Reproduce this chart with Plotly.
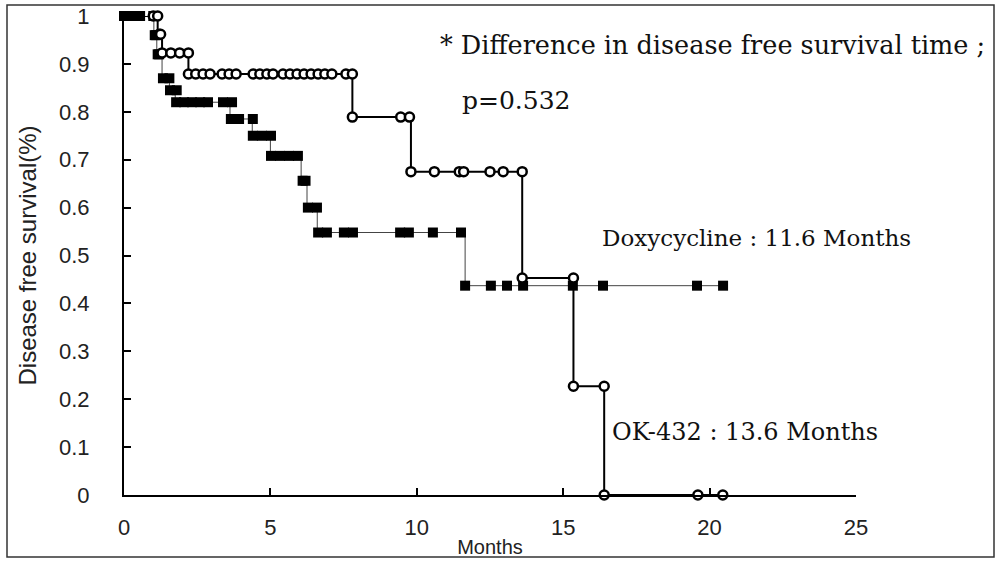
import plotly.graph_objects as go

# ---- data ----
ok_event_t = [1.15, 1.3, 2.2, 7.8, 9.8, 13.6, 15.35, 16.4]
ok_event_s = [0.962, 0.923, 0.879, 0.789, 0.675, 0.453, 0.227, 0.0]
ok_end_t = 20.45

ok_mark_t = [1.0, 1.15,
             1.2, 1.25,
             1.3, 1.6, 1.9, 2.2,
             2.2, 2.45, 2.7, 2.94, 3.35, 3.59, 3.83, 4.41, 4.64, 4.88, 5.09,
             5.43, 5.67, 5.91, 6.15, 6.39, 6.63, 6.86, 7.1, 7.58, 7.8,
             7.8, 9.45, 9.75,
             9.8, 10.6, 11.45, 11.6, 12.5, 12.95, 13.6,
             13.6, 15.35,
             15.35, 16.4,
             16.4, 19.6, 20.45]
ok_mark_s = [1.0, 1.0,
             0.962, 0.962,
             0.923, 0.923, 0.923, 0.923,
             0.879, 0.879, 0.879, 0.879, 0.879, 0.879, 0.879, 0.879, 0.879, 0.879, 0.879,
             0.879, 0.879, 0.879, 0.879, 0.879, 0.879, 0.879, 0.879, 0.879, 0.879,
             0.789, 0.789, 0.789,
             0.675, 0.675, 0.675, 0.675, 0.675, 0.675, 0.675,
             0.453, 0.453,
             0.227, 0.227,
             0.0, 0.0, 0.0]

dx_event_t = [1.02, 1.12, 1.3, 1.55, 1.75, 3.62, 4.38, 5.0, 6.05, 6.25, 6.6, 11.65]
dx_event_s = [0.96, 0.92, 0.87, 0.845, 0.82, 0.785, 0.75, 0.708, 0.656, 0.60, 0.548, 0.437]
dx_end_t = 20.46

dx_mark_t = [0.0, 0.3, 0.55, 1.0,
             1.05, 1.1,
             1.15, 1.2,
             1.33, 1.55,
             1.57, 1.8,
             1.78, 2.05, 2.32, 2.6, 2.87, 3.38, 3.69,
             3.65, 3.93, 4.4,
             4.4, 4.71, 5.02,
             5.02, 5.33, 5.64, 5.94,
             6.1, 6.2,
             6.28, 6.59,
             6.63, 6.93, 7.51, 7.82, 9.43, 9.73, 10.55, 11.51,
             11.65, 12.53, 13.08, 13.63, 15.33, 16.36, 19.57, 20.46]
dx_mark_s = [1.0, 1.0, 1.0, 1.0,
             0.96, 0.96,
             0.92, 0.92,
             0.87, 0.87,
             0.845, 0.845,
             0.82, 0.82, 0.82, 0.82, 0.82, 0.82, 0.82,
             0.785, 0.785, 0.785,
             0.75, 0.75, 0.75,
             0.708, 0.708, 0.708, 0.708,
             0.656, 0.656,
             0.60, 0.60,
             0.548, 0.548, 0.548, 0.548, 0.548, 0.548, 0.548, 0.548,
             0.437, 0.437, 0.437, 0.437, 0.437, 0.437, 0.437, 0.437]

x_ticks = [0, 5, 10, 15, 20, 25]
y_ticks = [0, 0.1, 0.2, 0.3, 0.4, 0.5, 0.6, 0.7, 0.8, 0.9, 1]
y_tick_text = ["0", "0.1", "0.2", "0.3", "0.4", "0.5", "0.6", "0.7", "0.8", "0.9", "1"]

# ---- figure ----
W, H = 999, 564
ML, MR, MT, MB = 124, 143, 16, 69
PW, PH = W - ML - MR, H - MT - MB

fig = go.Figure()

def step_line(ts, ss, end_t, width, color):
    x = [0] + ts + [end_t]
    y = [1.0] + ss + [ss[-1]]
    return go.Scatter(x=x, y=y, mode="lines", line=dict(shape="hv", width=width, color=color),
                      cliponaxis=False, showlegend=False, hoverinfo="skip")

fig.add_trace(step_line(dx_event_t, dx_event_s, dx_end_t, 1, "#444"))
fig.add_trace(step_line(ok_event_t, ok_event_s, ok_end_t, 2, "black"))

fig.add_trace(go.Scatter(x=dx_mark_t, y=dx_mark_s, mode="markers", cliponaxis=False,
                         marker=dict(symbol="square", size=10, color="black"),
                         showlegend=False))
fig.add_trace(go.Scatter(x=ok_mark_t, y=ok_mark_s, mode="markers", cliponaxis=False,
                         marker=dict(symbol="circle", size=9, color="white",
                                     line=dict(color="black", width=2.5)),
                         showlegend=False))

sans = "Liberation Sans Narrow, Liberation Sans, Arial"
tick_font = dict(family=sans, size=22, color="#222")

fig.update_xaxes(range=[0, 25], tickvals=x_ticks, ticks="inside", ticklen=7, tickwidth=1.5,
                 tickcolor="black", showline=True, linecolor="black", linewidth=2,
                 showgrid=False, zeroline=False, tickfont=tick_font, ticklabelstandoff=12,
                 automargin=False,
                 title=dict(text="Months", font=dict(family=sans, size=20, color="#222"), standoff=1))
fig.update_yaxes(range=[0, 1], tickvals=y_ticks, ticktext=y_tick_text, ticks="inside", ticklen=7,
                 tickwidth=1.5, tickcolor="black", showline=True, linecolor="black", linewidth=2,
                 showgrid=False, zeroline=False, tickfont=tick_font, ticklabelstandoff=28,
                 automargin=False,
                 title=dict(text="Disease free survival(%)",
                            font=dict(family=sans, size=24, color="#222"), standoff=16))

def serif(size):
    return dict(family="DejaVu Serif, Liberation Serif, serif", size=size, color="#111")

def px_to_paper(px, py):
    return (px - ML) / PW, (H - MB - py) / PH

annos = [
    ("* Difference in disease free survival time ;", 438, 45, 25.5),
    ("p=0.532", 460, 100, 25),
    ("Doxycycline : 11.6 Months", 600, 238, 23),
    ("OK-432 : 13.6 Months", 610, 432, 24),
]
for txt, px, py, fs in annos:
    ax, ay = px_to_paper(px, py)
    fig.add_annotation(text=txt, x=ax, y=ay, xref="paper", yref="paper", xanchor="left",
                       yanchor="middle", showarrow=False, font=serif(fs))

# outer frame
x0, y0 = px_to_paper(7, 557)
x1, y1 = px_to_paper(994, 5)
fig.add_shape(type="rect", xref="paper", yref="paper", x0=x0, y0=y0, x1=x1, y1=y1,
              line=dict(color="#333", width=1.5))

fig.update_layout(width=W, height=H, margin=dict(l=ML, r=MR, t=MT, b=MB, autoexpand=False),
                  paper_bgcolor="white", plot_bgcolor="white")

fig.write_html("out.html", config={"displayModeBar": False},
               post_script="document.body.style.margin='0';")
